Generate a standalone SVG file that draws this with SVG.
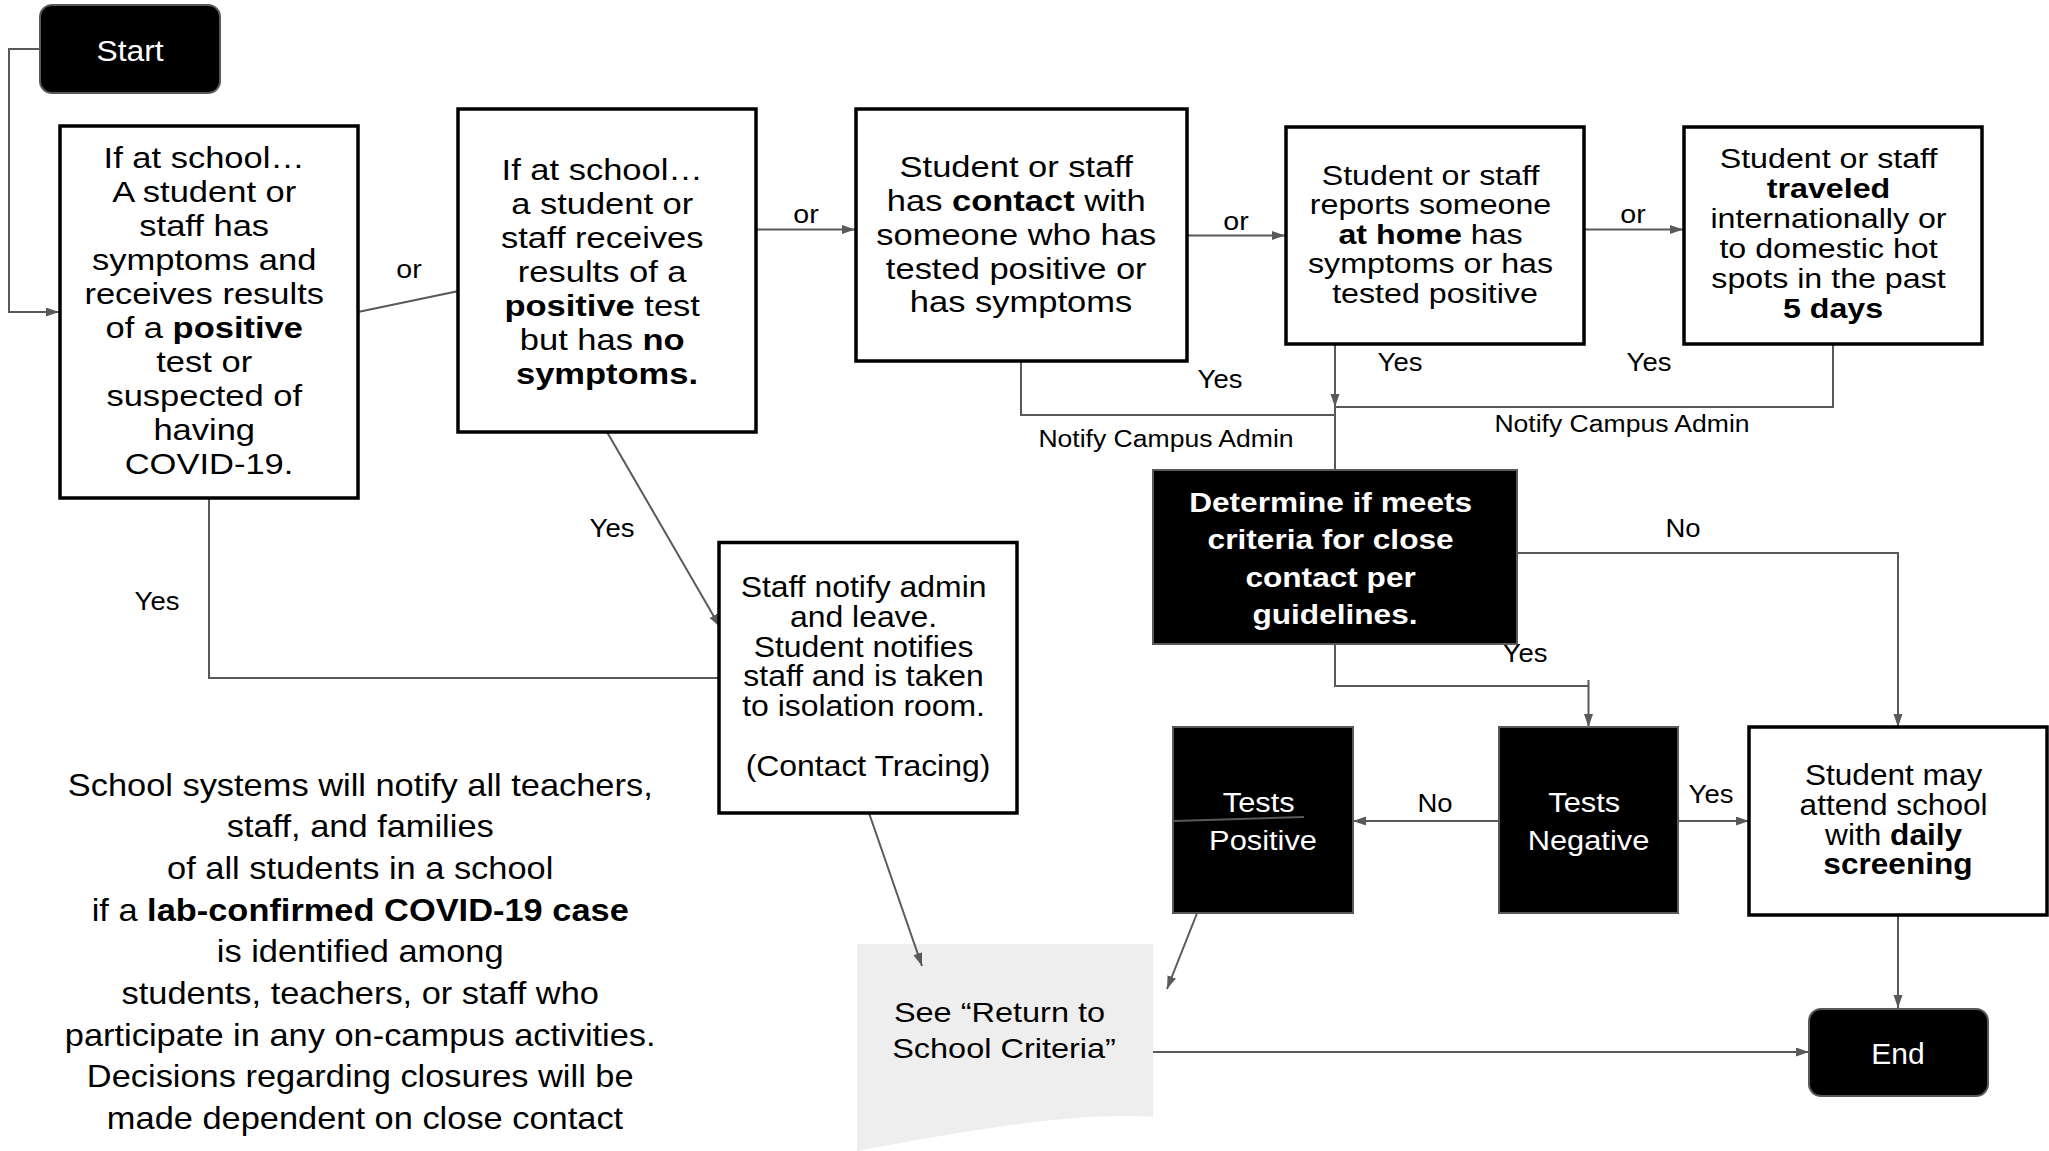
<svg xmlns="http://www.w3.org/2000/svg" width="2049" height="1151" viewBox="0 0 2049 1151">
<style>
.t{font-family:"Liberation Sans",Arial,sans-serif;text-anchor:middle;fill:#000}
.b{font-weight:bold}
.w{fill:#fff}
.box{fill:#fff;stroke:#000;stroke-width:3.5}
.dark{fill:#000;stroke:#595959;stroke-width:2}
.conn{fill:none;stroke:#595959;stroke-width:2}
.lbl{font-size:25px}
.nt{font-size:23.5px}
</style>
<defs>
<marker id="arr" markerUnits="userSpaceOnUse" markerWidth="14" markerHeight="10" refX="13" refY="4.5" orient="auto">
<path d="M0,0 L13,4.5 L0,9 Z" fill="#595959"/>
</marker>
</defs>
<rect x="0" y="0" width="2049" height="1151" fill="#fff"/>

<g id="return-criteria">
<path d="M857,944 H1153 V1117 C1080,1112 980,1128 857,1151 Z" fill="#eeeeee"/>
<g transform="translate(1004,0) scale(1.16,1)"><text class="t" font-size="28">
<tspan x="0" y="1021.7">See “Return to</tspan>
<tspan x="0" y="1058.3">School Criteria”</tspan>
</text></g>
</g>

<g id="connectors">
<path class="conn" d="M40,49 H9 V312 H59" marker-end="url(#arr)"/>
<path class="conn" d="M358,312 L473,288" marker-end="url(#arr)"/>
<path class="conn" d="M756,229.5 H855" marker-end="url(#arr)"/>
<path class="conn" d="M1187,235.5 H1285" marker-end="url(#arr)"/>
<path class="conn" d="M1584,229.5 H1683" marker-end="url(#arr)"/>
<path class="conn" d="M1021,361 V415 H1335"/>
<path class="conn" d="M1335,307 V407" marker-end="url(#arr)"/>
<path class="conn" d="M1833,344 V407 H1335"/>
<path class="conn" d="M1335,407 V470"/>
<path class="conn" d="M209,498 V678 H719"/>
<path class="conn" d="M607,432 L720,627" marker-end="url(#arr)"/>
<path class="conn" d="M1335,644 V686 H1588.5"/>
<path class="conn" d="M1588.5,680 V727" marker-end="url(#arr)"/>
<path class="conn" d="M1517,553 H1898 V727" marker-end="url(#arr)"/>
<path class="conn" d="M1499,821 H1353" marker-end="url(#arr)"/>
<path class="conn" d="M1678,821 H1749" marker-end="url(#arr)"/>
<path class="conn" d="M1211,878 L1167,989" marker-end="url(#arr)"/>
<path class="conn" d="M869,813 L922,966" marker-end="url(#arr)"/>
<path class="conn" d="M1153,1052 H1809" marker-end="url(#arr)"/>
<path class="conn" d="M1898,915 V1008" marker-end="url(#arr)"/>
<g transform="translate(409,0) scale(1.1,1)"><text class="t" font-size="26" x="0" y="278">or</text></g>
<g transform="translate(806,0) scale(1.1,1)"><text class="t" font-size="26" x="0" y="223">or</text></g>
<g transform="translate(1236,0) scale(1.1,1)"><text class="t" font-size="26" x="0" y="230">or</text></g>
<g transform="translate(1633,0) scale(1.1,1)"><text class="t" font-size="26" x="0" y="223">or</text></g>
<g transform="translate(157,0) scale(1.1,1)"><text class="t lbl" x="0" y="610">Yes</text></g>
<g transform="translate(612,0) scale(1.1,1)"><text class="t lbl" x="0" y="537">Yes</text></g>
<g transform="translate(1220,0) scale(1.1,1)"><text class="t lbl" x="0" y="388">Yes</text></g>
<g transform="translate(1400,0) scale(1.1,1)"><text class="t lbl" x="0" y="371">Yes</text></g>
<g transform="translate(1649,0) scale(1.1,1)"><text class="t lbl" x="0" y="371">Yes</text></g>
<g transform="translate(1525,0) scale(1.1,1)"><text class="t lbl" x="0" y="662">Yes</text></g>
<g transform="translate(1711,0) scale(1.1,1)"><text class="t lbl" x="0" y="803">Yes</text></g>
<g transform="translate(1683,0) scale(1.1,1)"><text class="t lbl" x="0" y="537">No</text></g>
<g transform="translate(1435,0) scale(1.1,1)"><text class="t lbl" x="0" y="812">No</text></g>
<g transform="translate(1166,0) scale(1.13,1)"><text class="t nt" x="0" y="447">Notify Campus Admin</text></g>
<g transform="translate(1622,0) scale(1.13,1)"><text class="t nt" x="0" y="432">Notify Campus Admin</text></g>
</g>

<g id="start">
<rect class="dark" x="40" y="5" width="180" height="88" rx="12"/>
<g transform="translate(130,0) scale(1.06,1)"><text class="t w" font-size="30" x="0" y="61">Start</text></g>
</g>

<g id="box1">
<rect class="box" x="60" y="126" width="298" height="372"/>
<g transform="translate(209,0) scale(1.15,1)"><text class="t" font-size="30">
<tspan x="0" y="168">If at school…</tspan>
<tspan x="0" y="202">A student or</tspan>
<tspan x="0" y="236">staff has</tspan>
<tspan x="0" y="270">symptoms and</tspan>
<tspan x="0" y="304">receives results</tspan>
<tspan x="0" y="338">of a <tspan class="b">positive</tspan></tspan>
<tspan x="0" y="372">test or</tspan>
<tspan x="0" y="406">suspected of</tspan>
<tspan x="0" y="440">having</tspan>
<tspan x="0" y="474">COVID-19.</tspan>
</text></g>
</g>

<g id="box2">
<rect class="box" x="458" y="109" width="298" height="323"/>
<g transform="translate(607,0) scale(1.15,1)"><text class="t" font-size="30">
<tspan x="0" y="180">If at school…</tspan>
<tspan x="0" y="214">a student or</tspan>
<tspan x="0" y="248">staff receives</tspan>
<tspan x="0" y="282">results of a</tspan>
<tspan x="0" y="316"><tspan class="b">positive</tspan> test</tspan>
<tspan x="0" y="350">but has <tspan class="b">no</tspan></tspan>
<tspan x="0" y="384" class="b">symptoms.</tspan>
</text></g>
</g>

<g id="box3">
<rect class="box" x="856" y="109" width="331" height="252"/>
<g transform="translate(1021,0) scale(1.15,1)"><text class="t" font-size="30">
<tspan x="0" y="177">Student or staff</tspan>
<tspan x="0" y="211">has <tspan class="b">contact</tspan> with</tspan>
<tspan x="0" y="245">someone who has</tspan>
<tspan x="0" y="279">tested positive or</tspan>
<tspan x="0" y="312">has symptoms</tspan>
</text></g>
</g>

<g id="box4">
<rect class="box" x="1286" y="127" width="298" height="217"/>
<g transform="translate(1435,0) scale(1.15,1)"><text class="t" font-size="28">
<tspan x="0" y="185">Student or staff</tspan>
<tspan x="0" y="214.5">reports someone</tspan>
<tspan x="0" y="244"><tspan class="b">at home</tspan> has</tspan>
<tspan x="0" y="273.5">symptoms or has</tspan>
<tspan x="0" y="303">tested positive</tspan>
</text></g>
</g>

<g id="box5">
<rect class="box" x="1684" y="127" width="298" height="217"/>
<g transform="translate(1833,0) scale(1.15,1)"><text class="t" font-size="28">
<tspan x="0" y="168.3">Student or staff</tspan>
<tspan x="0" y="198.3" class="b">traveled</tspan>
<tspan x="0" y="228.3">internationally or</tspan>
<tspan x="0" y="258.3">to domestic hot</tspan>
<tspan x="0" y="288.3">spots in the past</tspan>
<tspan x="0" y="318.3" class="b">5 days</tspan>
</text></g>
</g>

<g id="determine">
<rect class="dark" x="1153" y="470" width="364" height="174"/>
<g transform="translate(1335,0) scale(1.13,1)"><text class="t w b" font-size="28">
<tspan x="0" y="512">Determine if meets</tspan>
<tspan x="0" y="549.5">criteria for close</tspan>
<tspan x="0" y="587">contact per</tspan>
<tspan x="0" y="624.5">guidelines.</tspan>
</text></g>
</g>

<g id="staff-notify">
<rect class="box" x="719" y="542.5" width="298" height="270.5"/>
<g transform="translate(868,0) scale(1.1,1)"><text class="t" font-size="29">
<tspan x="0" y="597.5">Staff notify admin</tspan>
<tspan x="0" y="627">and leave.</tspan>
<tspan x="0" y="657">Student notifies</tspan>
<tspan x="0" y="686.5">staff and is taken</tspan>
<tspan x="0" y="716">to isolation room.</tspan>
<tspan x="0" y="776">(Contact Tracing)</tspan>
</text></g>
</g>

<g id="tests-positive">
<rect class="dark" x="1173" y="727" width="180" height="186"/>
<g transform="translate(1263,0) scale(1.1,1)"><text class="t w" font-size="28">
<tspan x="0" y="812">Tests</tspan>
<tspan x="0" y="850">Positive</tspan>
</text></g>
<path class="conn" d="M1174,821 L1304,817"/>
</g>

<g id="tests-negative">
<rect class="dark" x="1499" y="727" width="179" height="186"/>
<g transform="translate(1588.5,0) scale(1.1,1)"><text class="t w" font-size="28">
<tspan x="0" y="812">Tests</tspan>
<tspan x="0" y="850">Negative</tspan>
</text></g>
</g>

<g id="student-attend">
<rect class="box" x="1749" y="727" width="298" height="188"/>
<g transform="translate(1898,0) scale(1.09,1)"><text class="t" font-size="29">
<tspan x="0" y="785.5">Student may</tspan>
<tspan x="0" y="815">attend school</tspan>
<tspan x="0" y="845">with <tspan class="b">daily</tspan></tspan>
<tspan x="0" y="874.5" class="b">screening</tspan>
</text></g>
</g>

<g id="end">
<rect class="dark" x="1809" y="1009" width="179" height="87" rx="12"/>
<text class="t w" font-size="30" x="1898" y="1063.5">End</text>
</g>

<g id="note">
<g transform="translate(365,0) scale(1.075,1)"><text class="t" font-size="32">
<tspan x="0" y="795.6">School systems will notify all teachers,</tspan>
<tspan x="0" y="837.3">staff, and families</tspan>
<tspan x="0" y="879">of all students in a school</tspan>
<tspan x="0" y="920.7">if a <tspan class="b">lab-confirmed COVID-19 case</tspan></tspan>
<tspan x="0" y="962.4">is identified among</tspan>
<tspan x="0" y="1004.1">students, teachers, or staff who</tspan>
<tspan x="0" y="1045.8">participate in any on-campus activities.</tspan>
<tspan x="0" y="1087.5">Decisions regarding closures will be</tspan>
<tspan x="0" y="1129.2">made dependent on close contact</tspan>
</text></g>
</g>
</svg>
